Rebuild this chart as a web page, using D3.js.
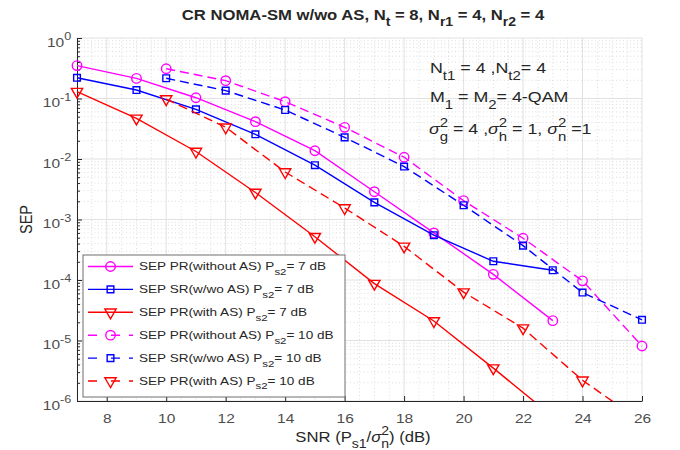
<!DOCTYPE html>
<html>
<head>
<meta charset="utf-8">
<script src="https://cdn.jsdelivr.net/npm/d3@7/dist/d3.min.js"></script>
<style>
  html, body { margin: 0; padding: 0; background: #fff; }
  svg { display: block; font-family: "Liberation Sans", Arial, sans-serif; }
</style>
</head>
<body>
<div id="chart"></div>
<script>
// SNR grids (dB)
const snrA = [7, 9, 11, 13, 15, 17, 19, 21, 23]     // Ps2 = 7 dB
const snrB = [10, 12, 14, 16, 18, 20, 22, 24, 26]   // Ps2 = 10 dB

// SEP values
const prNoAs7 = [0.35, 0.215, 0.103, 0.0414, 0.0137, 0.00288, 6.0e-4, 1.24e-4, 2.13e-5]
const sr7     = [0.22, 0.138, 0.0663, 0.0256, 0.0079, 0.00192, 5.5e-4, 2.04e-4, 1.45e-4]
const prAs7   = [0.13, 0.047, 0.0133, 0.0028, 5.2e-4, 8.7e-5, 2.1e-5, 3.5e-6, 5.5e-7]
const prNoAs10 = [0.31, 0.197, 0.0887, 0.0334, 0.0107, 0.00205, 4.9e-4, 9.7e-5, 8.1e-6]
const sr10     = [0.216, 0.135, 0.0645, 0.0228, 0.0075, 0.00172, 3.7e-4, 6.2e-5, 2.2e-5]
const prAs10   = [0.098, 0.0335, 0.0061, 0.00155, 3.6e-4, 6.3e-5, 1.6e-5, 2.2e-6, 4.5e-7]

const xTicks = [8, 10, 12, 14, 16, 18, 20, 22, 24, 26]
const yExps = [0, -1, -2, -3, -4, -5, -6]

const W = 680, H = 450
const M = { l: 77, r: 642, t: 38, b: 401 }
const SX = 1.15   // the reference text is a bit wider than it is tall

const series = [
  { x: snrA, y: prNoAs7,  color: "#ff00ff", dash: null, mark: "circle",   lab: ["SEP PR(without AS) P", "s2", "= 7 dB"] },
  { x: snrA, y: sr7,      color: "#0000ff", dash: null, mark: "square",   lab: ["SEP SR(w/wo AS) P", "s2", "= 7 dB"] },
  { x: snrA, y: prAs7,    color: "#ff0000", dash: null, mark: "triangle", lab: ["SEP PR(with AS) P", "s2", "= 7 dB"] },
  { x: snrB, y: prNoAs10, color: "#ff00ff", dash: "9,5", mark: "circle",   lab: ["SEP PR(without AS) P", "s2", "= 10 dB"] },
  { x: snrB, y: sr10,     color: "#0000ff", dash: "9,5", mark: "square",   lab: ["SEP SR(w/wo AS) P", "s2", "= 10 dB"] },
  { x: snrB, y: prAs10,   color: "#ff0000", dash: "9,5", mark: "triangle", lab: ["SEP PR(with AS) P", "s2", "= 10 dB"] },
]

const x = d3.scaleLinear().domain([7, 26]).range([M.l, M.r])
const y = d3.scaleLog().domain([1e-6, 1]).range([M.b, M.t])

const svg = d3.select("#chart").append("svg").attr("width", W).attr("height", H)

// text with sub/superscripts; parts = [text, kind, stackedSub]
function rich(t, parts, fs) {
  let off = 0
  const sm = fs * 0.84
  parts.forEach(([s, kind, s2]) => {
    const target = kind === "sub" ? fs * 0.42 : kind === "sup" ? -fs * 0.45 : 0
    const ts = t.append("tspan").attr("dy", target - off).text(s)
    if (kind === "sub" || kind === "sup") ts.attr("font-size", sm)
    if (kind === "it") ts.attr("font-style", "italic")
    off = target
    if (s2 != null) {
      const sub = fs * 0.42
      t.append("tspan").attr("font-size", sm).attr("dx", -sm * 0.56 * s.length)
        .attr("dy", sub - off).text(s2)
      off = sub
    }
  })
  return t
}

function stext(parent, px, py, fs) {
  return parent.append("text")
    .attr("transform", `translate(${px},${py}) scale(${SX},1)`)
    .attr("font-size", fs)
}

// grid
const grid = svg.append("g")
const minorX = d3.range(7, 26.01, 0.5).filter(v => v % 2 !== 0)
const minorY = []
for (let e = -6; e < 0; e++) for (let k = 2; k <= 9; k++) minorY.push(k * Math.pow(10, e))

grid.selectAll(".mx").data(minorX).join("line")
  .attr("x1", d => x(d)).attr("x2", d => x(d)).attr("y1", M.t).attr("y2", M.b)
  .attr("stroke", "#cfcfcf").attr("stroke-width", 0.7).attr("stroke-dasharray", "1,2.5")
grid.selectAll(".my").data(minorY).join("line")
  .attr("x1", M.l).attr("x2", M.r).attr("y1", d => y(d)).attr("y2", d => y(d))
  .attr("stroke", "#cfcfcf").attr("stroke-width", 0.7).attr("stroke-dasharray", "1,2.5")
grid.selectAll(".gx").data(xTicks).join("line")
  .attr("x1", d => x(d)).attr("x2", d => x(d)).attr("y1", M.t).attr("y2", M.b)
  .attr("stroke", "#e1e1e1").attr("stroke-width", 1)
grid.selectAll(".gy").data(yExps.map(e => Math.pow(10, e))).join("line")
  .attr("x1", M.l).attr("x2", M.r).attr("y1", d => y(d)).attr("y2", d => y(d))
  .attr("stroke", "#e1e1e1").attr("stroke-width", 1)

// axes
const axisColor = "#262626", labColor = "#4d4d4d"
const xAxis = svg.append("g").attr("transform", `translate(0,${M.b})`)
  .call(d3.axisBottom(x).tickValues(xTicks).tickSizeInner(-5).tickSizeOuter(0).tickPadding(12))
xAxis.selectAll("text").attr("font-size", 13.5).attr("fill", labColor)
  .attr("font-family", "'Liberation Sans', Arial, sans-serif")
  .attr("transform", `scale(${SX},1)`)

const yAxis = svg.append("g").attr("transform", `translate(${M.l},0)`)
  .call(d3.axisLeft(y).tickValues(yExps.map(e => Math.pow(10, e))).tickSizeInner(-5).tickSizeOuter(0)
    .tickPadding(5).tickFormat(() => ""))
yAxis.selectAll(".tick text").each(function(d) {
  const t = d3.select(this).attr("font-size", 13.5).attr("fill", labColor)
    .attr("font-family", "'Liberation Sans', Arial, sans-serif")
    .attr("dy", null).attr("transform", `scale(${SX},1)`)
  t.append("tspan").attr("dy", "0.62em").text("10")
  t.append("tspan").attr("dy", "-0.6em").attr("font-size", 11).text(Math.round(Math.log10(d)))
})
svg.append("g").attr("transform", `translate(${M.l},0)`)
  .call(d3.axisLeft(y).tickValues(minorY).tickSizeInner(-3).tickSizeOuter(0).tickFormat(() => ""))
  .call(g => g.select(".domain").remove())
svg.selectAll(".domain, .tick line").attr("stroke", axisColor)

// curves
const plot = svg.append("g").attr("clip-path", "url(#clip)")
svg.append("defs").append("clipPath").attr("id", "clip")
  .append("rect").attr("x", M.l - 8).attr("y", M.t - 8).attr("width", M.r - M.l + 16).attr("height", M.b - M.t + 8)

const line = d3.line().x(d => x(d[0])).y(d => y(d[1]))
const sym = {
  circle: d3.symbol().type(d3.symbolCircle).size(70),
  square: d3.symbol().type(d3.symbolSquare).size(45),
  triangle: d3.symbol().type(d3.symbolTriangle).size(55),
}

function drawMark(g, kind, color, px, py) {
  g.append("path").attr("d", sym[kind]())
    .attr("transform", `translate(${px},${py})` + (kind === "triangle" ? " rotate(180)" : ""))
    .attr("fill", "none").attr("stroke", color).attr("stroke-width", 1.4)
}

series.forEach(s => {
  const pts = s.x.map((v, i) => [v, s.y[i]])
  plot.append("path").datum(pts).attr("d", line)
    .attr("fill", "none").attr("stroke", s.color).attr("stroke-width", 1.4)
    .attr("stroke-dasharray", s.dash)
  pts.filter(p => p[1] >= 1e-6).forEach(p => drawMark(plot, s.mark, s.color, x(p[0]), y(p[1])))
})

// legend
const leg = svg.append("g")
leg.append("rect").attr("x", 83).attr("y", 255).attr("width", 262).attr("height", 142)
  .attr("fill", "#fff").attr("stroke", "#6e6e6e").attr("stroke-width", 1)
series.forEach((s, i) => {
  const ry = 266.5 + i * 22.9
  leg.append("line").attr("x1", 88).attr("x2", 133).attr("y1", ry).attr("y2", ry)
    .attr("stroke", s.color).attr("stroke-width", 1.4)
    .attr("stroke-dasharray", s.dash ? "9,14,9" : null)
  drawMark(leg, s.mark, s.color, 110.5, ry)
  const t = stext(leg, 139, ry + 3.5, 11.8).attr("fill", "#262626")
  rich(t, [[s.lab[0]], [s.lab[1], "sub"], [s.lab[2]]], 11.8)
})

// title
const title = stext(svg, 363, 20, 14.5).attr("font-weight", "bold").attr("text-anchor", "middle").attr("fill", "#262626")
rich(title, [["CR NOMA-SM w/wo AS, N"], ["t", "sub"], [" = 8, N"], ["r1", "sub"], [" = 4, N"], ["r2", "sub"], [" = 4"]], 14.5)

// axis labels
const xl = stext(svg, 363, 442, 14.5).attr("text-anchor", "middle").attr("fill", "#262626")
rich(xl, [["SNR (P"], ["s1", "sub"], ["/"], ["σ", "it"], ["2", "sup", "n"], [") (dB)"]], 14.5)

svg.append("text").attr("transform", `translate(32,${(M.t + M.b) / 2}) scale(${SX},1) rotate(-90)`)
  .attr("font-size", 14.5).attr("text-anchor", "middle").attr("fill", "#262626").text("SEP")

// annotation
const ann = svg.append("g").attr("fill", "#262626")
rich(stext(ann, 430, 73, 15.5), [["N"], ["t1", "sub"], [" = 4 ,N"], ["t2", "sub"], ["= 4"]], 15.5)
rich(stext(ann, 430, 102, 15.5), [["M"], ["1", "sub"], [" = M"], ["2", "sub"], ["= 4-QAM"]], 15.5)
rich(stext(ann, 429, 134, 15.5), [["σ", "it"], ["2", "sup", "g"], [" = 4 ,"], ["σ", "it"], ["2", "sup", "h"],
  [" = 1, "], ["σ", "it"], ["2", "sup", "n"], [" =1"]], 15.5)
</script>
</body>
</html>
